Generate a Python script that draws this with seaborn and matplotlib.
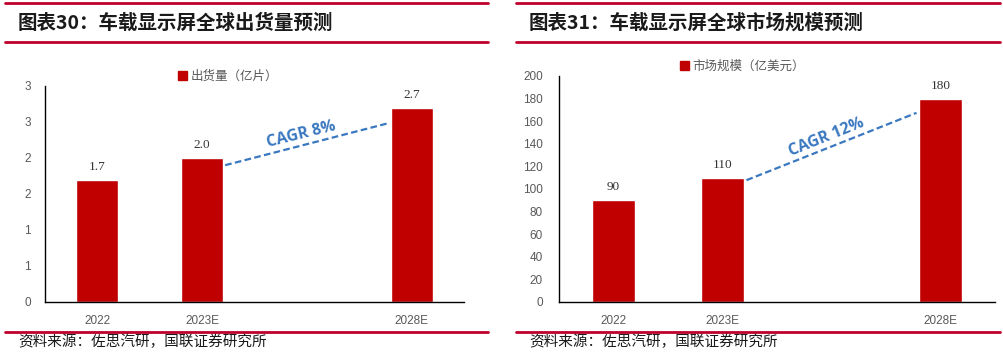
import matplotlib
matplotlib.use('Agg')
import matplotlib.pyplot as plt
import seaborn as sns
import pandas as pd
from matplotlib.patches import Patch
from matplotlib.lines import Line2D

sns.set_style('white')
plt.rcParams['font.family'] = ['Liberation Sans', 'Noto Sans CJK SC']

# data
years = ['2022', '2023E', 'gap', '2028E']
year_labels = ['2022', '2023E', '', '2028E']
shipments = [1.7, 2.0, None, 2.7]        # 亿片
market_size = [90, 110, None, 180]       # 亿美元
ship_ticks = [0, 0.5, 1, 1.5, 2, 2.5, 3]
ship_ticklabels = ['0', '1', '1', '2', '2', '3', '3']
market_ticks = list(range(0, 201, 20))

titles = ['图表30：车载显示屏全球出货量预测', '图表31：车载显示屏全球市场规模预测']
legend_names = ['出货量（亿片）', '市场规模（亿美元）']
cagr_text = ['CAGR 8%', 'CAGR 12%']
source = '资料来源：佐思汽研，国联证券研究所'

BAR = '#C00000'
LINE_RED = '#C0002A'
BLUE = '#3A78C0'
GRAY = '#595959'
CJK = ['Noto Sans CJK SC', 'DejaVu Sans']

W, H = 1004, 352
fig = plt.figure(figsize=(W / 100, H / 100), dpi=100)

def fx(px):
    return px / W

def fy(py):
    return 1 - py / H

ax1 = fig.add_axes([fx(45), fy(302), fx(464 - 45), (302 - 86) / H])
ax2 = fig.add_axes([fx(559), fy(302), fx(995 - 559), (302 - 76) / H])

def draw(ax, vals, ymax, fmt):
    df = pd.DataFrame({'year': years, 'val': vals}).dropna()
    sns.barplot(data=df, x='year', y='val', order=years, color=BAR,
                saturation=1, width=0.4, ax=ax)
    for i, v in enumerate(vals):
        if v is None:
            continue
        ax.annotate(fmt.format(v), (i, v), xytext=(0, 5), textcoords='offset points',
                    ha='center', va='bottom', fontsize=9.5, color='#333333',
                    family='Liberation Serif')
    ax.set_xlim(-0.5, 3.5)
    ax.set_ylim(0, ymax)
    ax.set_xlabel('')
    ax.set_ylabel('')
    ax.set_xticks(range(4))
    ax.set_xticklabels(year_labels)
    ax.set_xticks([-0.5, 0.5, 1.5, 2.5, 3.5], minor=True)
    ax.tick_params(axis='x', which='major', length=0, pad=9, labelsize=8.5, labelcolor=GRAY)
    ax.tick_params(axis='x', which='minor', direction='in', length=4, width=0.8, color='black')
    ax.tick_params(axis='y', length=3, width=0.8, color='black', labelsize=8.5,
                   labelcolor=GRAY, pad=7)
    for s in ['top', 'right']:
        ax.spines[s].set_visible(False)
    for s in ['left', 'bottom']:
        ax.spines[s].set_color('black')
        ax.spines[s].set_linewidth(1.0)

draw(ax1, shipments, 3, '{:.1f}')
ax1.set_yticks(ship_ticks)
ax1.set_yticklabels(ship_ticklabels)
draw(ax2, market_size, 200, '{:.0f}')
ax2.set_yticks(market_ticks)
ax2.tick_params(axis='y', pad=8.5)

# CAGR dashed lines and labels
for ax, vals, lo, hi, txt, ang, ty in [
        (ax1, shipments, 0.95, 0.92, cagr_text[0], 14, 2.32),
        (ax2, market_size, 0.98, 0.93, cagr_text[1], 22, 146)]:
    ax.plot([1.22, 2.78], [vals[1] * lo, vals[3] * hi], ls=(0, (3, 1.5)),
            color=BLUE, lw=1.6)
    ax.text(1.95, ty, txt, rotation=ang, ha='center', va='center', color=BLUE,
            fontsize=11.5, fontweight='bold', family='Open Sans')

# legends
for name, px, py in [(legend_names[0], 178, 76), (legend_names[1], 680, 66)]:
    fig.legend(handles=[Patch(facecolor=BAR, edgecolor=BAR)], labels=[name],
               loc='center left', bbox_to_anchor=(fx(px), fy(py)), frameon=False,
               borderpad=0, borderaxespad=0, handlelength=0.7, handleheight=0.7,
               handletextpad=0.3, prop={'family': CJK, 'size': 9},
               labelcolor=GRAY)

# title bars, titles and sources
for x0, x1, tx, title in [(5, 488, 18, titles[0]), (516, 1000, 529, titles[1])]:
    for py in [3, 42, 332]:
        fig.add_artist(Line2D([fx(x0), fx(x1)], [fy(py), fy(py)], color=LINE_RED, lw=2))
    fig.text(fx(tx), fy(23), title, fontsize=14, fontweight='bold', color='#1a1a1a',
             family=CJK, va='center', ha='left')
    fig.text(fx(tx), fy(342), source, fontsize=10.5, color='#1a1a1a',
             family=CJK, va='center', ha='left')

fig.savefig('out.png', dpi=100)
